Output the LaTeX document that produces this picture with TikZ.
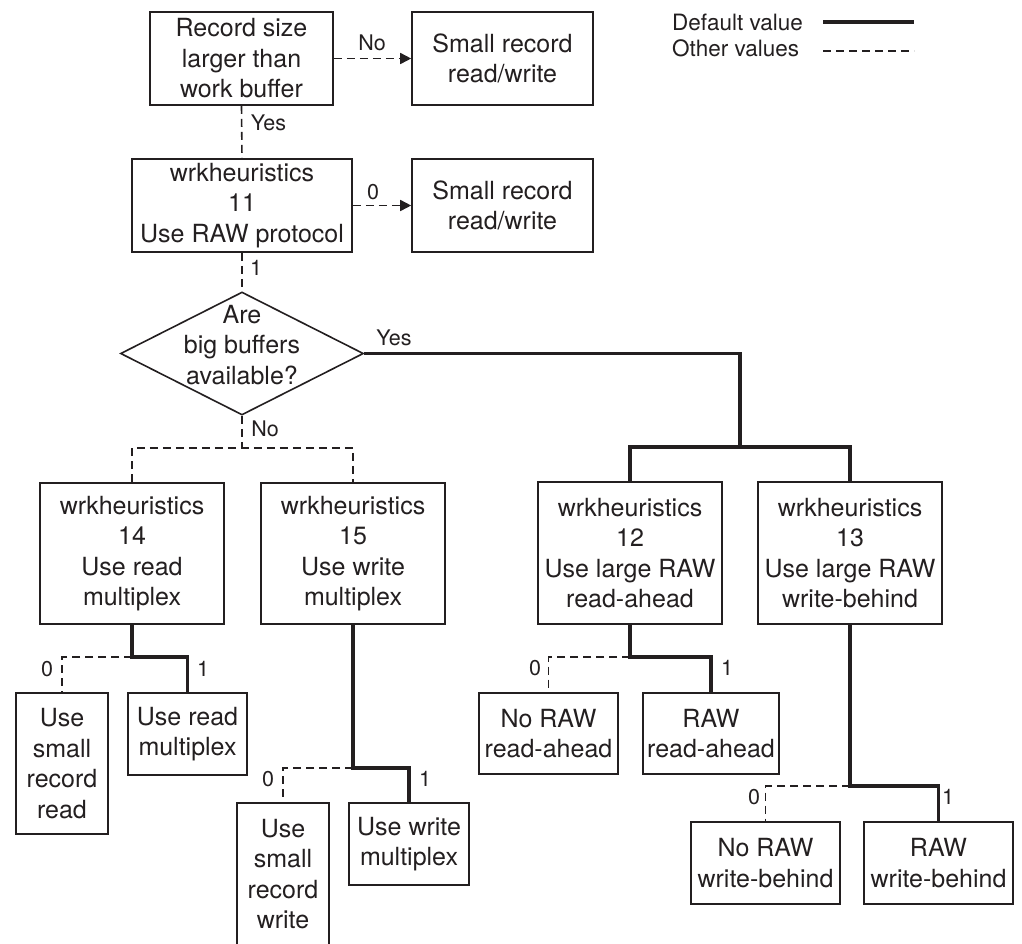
\documentclass[tikz,border=0pt]{standalone}
\usepackage{fontspec}
\setmainfont{TeX Gyre Heros}
\usetikzlibrary{arrows.meta,shapes.geometric}
\definecolor{ink}{HTML}{231F20}
\newcommand{\bxfont}{\fontsize{25}{30.5}\selectfont}
\newcommand{\lblfont}{\fontsize{21.5}{24}\selectfont}
\newcommand{\lgfont}{\fontsize{22.5}{26}\selectfont}
\tikzset{
  box/.style={draw=ink, line width=1.6pt, inner sep=0pt, align=center, text=ink, font=\bxfont},
  lbl/.style={font=\lblfont, inner sep=0pt, text=ink},
  legendtext/.style={font=\lgfont, inner sep=0pt, text=ink, anchor=west},
  defline/.style={draw=ink, line width=3.5pt},
  othline/.style={draw=ink, line width=1.6pt, dash pattern=on 8pt off 5pt},
  tip/.style={-{Triangle[length=11pt,width=11pt]}},
}
\begin{document}
\begin{tikzpicture}[x=1pt, y=-1pt]
\useasboundingbox (0,0) rectangle (1022,943);
\clip (0,0) rectangle (1022,943);

% decision chain at the top
\node[box, minimum width=183pt, minimum height=93pt] (A) at (241.5,58.5) {Record size\\larger than\\work buffer};
\node[box, minimum width=181pt, minimum height=93pt] (B) at (502.5,58.5) {Small record\\read/write};
\node[box, minimum width=220pt, minimum height=93pt] (C) at (242,205.5) {wrkheuristics\\11\\Use RAW protocol};
\node[box, minimum width=181pt, minimum height=93pt] (D) at (502.5,205.5) {Small record\\read/write};

% big buffer test
\node[diamond, draw=ink, line width=1.6pt, inner sep=0pt, minimum width=243pt, minimum height=123pt] (dia) at (242,353.5) {};
\node[align=center, inner sep=0pt, text=ink, font=\bxfont] (diatext) at (242,345) {Are\\big buffers\\available?};

% second level
\node[box, minimum width=184pt, minimum height=141pt] (E) at (132,553.5) {wrkheuristics\\14\\Use read\\multiplex};
\node[box, minimum width=184pt, minimum height=141pt] (F) at (353,553.5) {wrkheuristics\\15\\Use write\\multiplex};
\node[box, minimum width=184pt, minimum height=142pt] (G) at (630,553) {wrkheuristics\\12\\Use large RAW\\read-ahead};
\node[box, minimum width=184pt, minimum height=142pt] (H) at (850,553) {wrkheuristics\\13\\Use large RAW\\write-behind};

% outcomes
\node[box, minimum width=92pt, minimum height=141pt] (E0) at (62,763.5) {Use\\small\\record\\read};
\node[box, minimum width=119pt, minimum height=82pt] (E1) at (187.5,734) {Use read\\multiplex};
\node[box, minimum width=92pt, minimum height=142pt] (F0) at (283,874) {Use\\small\\record\\write};
\node[box, minimum width=120pt, minimum height=82pt] (F1) at (409,844) {Use write\\multiplex};
\node[box, minimum width=139pt, minimum height=81pt] (G0) at (548.5,733.5) {No RAW\\read-ahead};
\node[box, minimum width=136pt, minimum height=81pt] (G1) at (711,733.5) {RAW\\read-ahead};
\node[box, minimum width=149pt, minimum height=82pt] (H0) at (765.5,863) {No RAW\\write-behind};
\node[box, minimum width=149pt, minimum height=82pt] (H1) at (938.5,863) {RAW\\write-behind};

% junction points
\coordinate (nojoin) at (242,448);
\coordinate (yesjoin) at (740,447);
\coordinate (ej) at (132,657);
\coordinate (fj) at (353,768);
\coordinate (gj) at (630,657);
\coordinate (hj) at (850,786);

% connectors
\draw[othline, tip] (A) -- (B);
\draw[othline] (A.south) -- (C.north);
\draw[othline, tip] (C) -- (D);
\draw[othline] (C.south) -- (dia.north);
\draw[othline] (dia.south) -- (nojoin);
\draw[othline] (E.north) |- (nojoin) -| (F.north);
\draw[defline] (dia.east) -| (yesjoin);
\draw[defline] (G.north) |- (yesjoin) -| (H.north);

\draw[othline] (ej) -| (E0.north);
\draw[defline] (E.south) -- (ej) -| (E1.north);
\draw[othline] (fj) -| (F0.north);
\draw[defline] (F.south) -- (fj) -| (F1.north);
\draw[othline] (gj) -| (G0.north);
\draw[defline] (G.south) -- (gj) -| (G1.north);
\draw[othline] (hj) -| (H0.north);
\draw[defline] (H.south) -- (hj) -| (H1.north);

% branch labels
\node[lbl] (lno1) at (372,43) {No};
\node[lbl] (lyes1) at (268.5,123) {Yes};
\node[lbl] (lzero1) at (373,192) {0};
\node[lbl] (lone1) at (256,268) {1};
\node[lbl] (lno2) at (265,429) {No};
\node[lbl] (lyes2) at (394,338) {Yes};
\node[lbl] (le0) at (47,669) {0};
\node[lbl] (le1) at (203,669) {1};
\node[lbl] (lf0) at (268,779) {0};
\node[lbl] (lf1) at (425,779) {1};
\node[lbl] (lg0) at (535,668) {0};
\node[lbl] (lg1) at (727,668) {1};
\node[lbl] (lh0) at (754,797) {0};
\node[lbl] (lh1) at (948,797) {1};

% legend
\node[legendtext] (ldef) at (672,22) {Default value};
\node[legendtext] (loth) at (672,48) {Other values};
\coordinate (ldefa) at (823,22);
\coordinate (ldefb) at (914,22);
\coordinate (lotha) at (823,51);
\coordinate (lothb) at (914,51);
\draw[defline] (ldefa) -- (ldefb);
\draw[othline] (lotha) -- (lothb);
\end{tikzpicture}
\end{document}
